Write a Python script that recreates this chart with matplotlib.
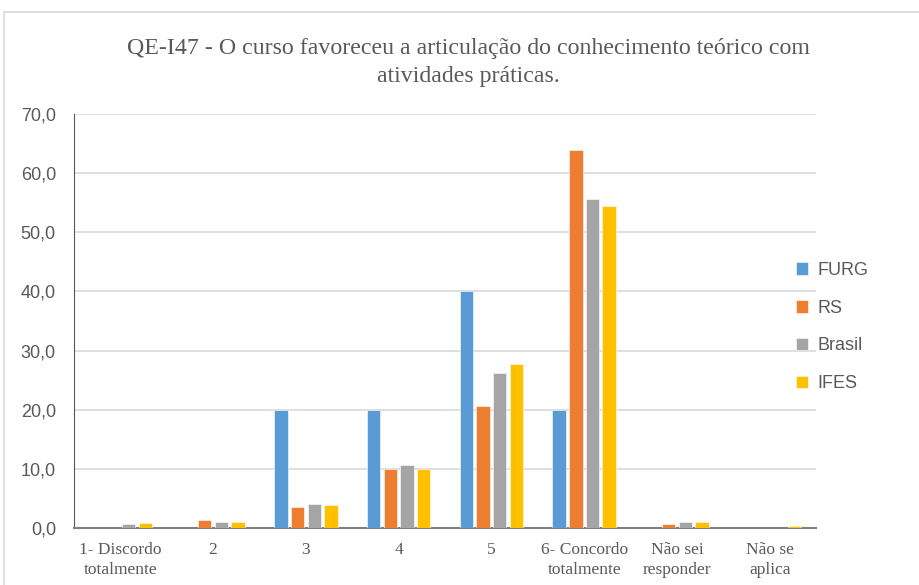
import numpy as np
import matplotlib.pyplot as plt
from matplotlib.patches import Rectangle

categorias = ['1- Discordo\ntotalmente', '2', '3', '4', '5',
              '6- Concordo\ntotalmente', 'Não sei\nresponder', 'Não se\naplica']
furg = [0.0, 0.0, 20.0, 20.0, 40.0, 20.0, 0.0, 0.0]
rs = [0.0, 1.3, 3.5, 9.9, 20.6, 63.9, 0.6, 0.0]
brasil = [0.7, 1.1, 4.1, 10.6, 26.2, 55.7, 1.0, 0.0]
ifes = [0.9, 1.1, 3.9, 10.0, 27.8, 54.5, 1.0, 0.3]

series = [('FURG', furg, '#5B9BD5'), ('RS', rs, '#ED7D31'),
          ('Brasil', brasil, '#A5A5A5'), ('IFES', ifes, '#FFC000')]

fig = plt.figure(figsize=(9.19, 5.85), dpi=100)
ax = fig.add_axes([0.0805, 0.0974, 0.8075, 0.7077])

# moldura externa
fig.patches.append(Rectangle((0.004, -0.05), 1.1, 1.029, transform=fig.transFigure,
                             fill=False, edgecolor='#D9D9D9', linewidth=1.2))

x = np.arange(len(categorias))
passo = 0.18
largura = 0.145
for i, (nome, valores, cor) in enumerate(series):
    ax.bar(x + (i - 1.5) * passo, valores, width=largura, color=cor,
           edgecolor='white', linewidth=0.4, label=nome, zorder=3)

ax.set_xlim(-0.5, len(categorias) - 0.5)
ax.set_ylim(0, 70)
ax.set_yticks(np.arange(0, 71, 10))
ax.set_yticklabels([f'{v:.1f}'.replace('.', ',') for v in np.arange(0, 71, 10)],
                   fontfamily='Liberation Sans', fontsize=13, color='#595959')
ax.set_xticks(x)
ax.set_xticklabels(categorias, fontfamily='Liberation Serif', fontsize=12.5, color='#595959',
                   linespacing=1.3)
ax.tick_params(axis='both', length=0)
ax.tick_params(axis='y', pad=13)
ax.tick_params(axis='x', pad=10)
ax.grid(axis='y', color='#D9D9D9', linewidth=1.2, zorder=0)
for lado in ['top', 'right']:
    ax.spines[lado].set_visible(False)
ax.spines['left'].set_color('#595959')
ax.spines['bottom'].set_color('#7F7F7F')
ax.spines['bottom'].set_linewidth(1.5)

fig.text(0.51, 0.893, 'QE-I47 - O curso favoreceu a articulação do conhecimento teórico com\natividades práticas.',
         ha='center', va='center', fontfamily='Liberation Serif', fontsize=17.2,
         color='#595959', linespacing=1.4)

fig.legend(loc='center left', bbox_to_anchor=(0.848, 0.441), frameon=False,
           prop={'family': 'Liberation Sans', 'size': 13}, labelcolor='#595959',
           handlelength=0.7, handleheight=0.7, handletextpad=0.5, labelspacing=1.15)

fig.savefig('out.png', dpi=100, facecolor='white')
